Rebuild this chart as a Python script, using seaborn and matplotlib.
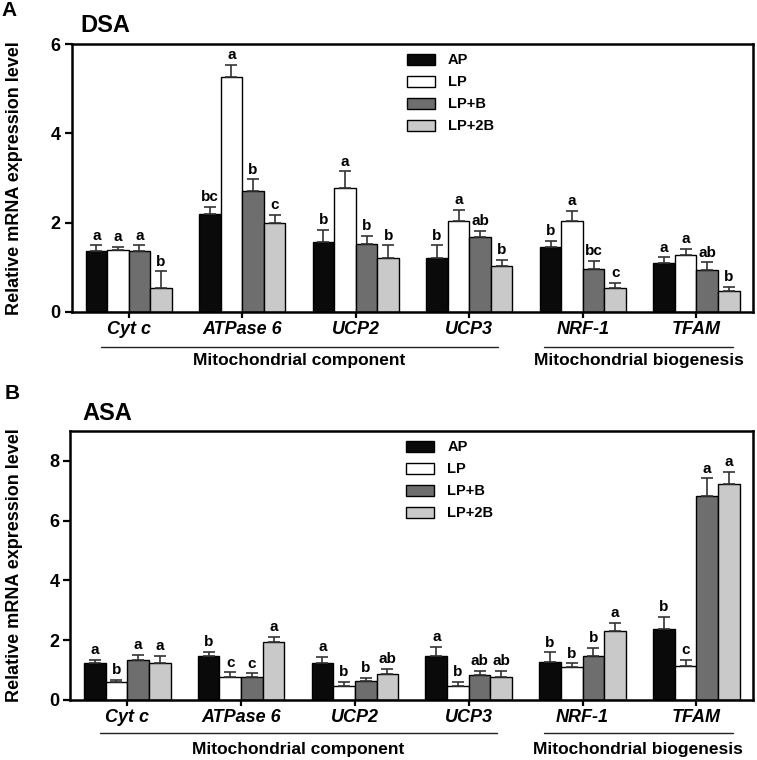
import numpy as np
import pandas as pd
import matplotlib
matplotlib.use("Agg")
import matplotlib.pyplot as plt
import matplotlib.transforms as mtransforms
import seaborn as sns

# ---------------------------------------------------------------------------
# data
# ---------------------------------------------------------------------------
genes = ["Cyt c", "ATPase 6", "UCP2", "UCP3", "NRF-1", "TFAM"]
groups = ["AP", "LP", "LP+B", "LP+2B"]
colors = ["#0a0a0a", "#ffffff", "#6e6e6e", "#c9c9c9"]

# panel A - DSA
dsa_ap = [1.36, 2.20, 1.56, 1.21, 1.45, 1.10]
dsa_lp = [1.38, 5.26, 2.78, 2.04, 2.04, 1.27]
dsa_lpb = [1.36, 2.70, 1.53, 1.67, 0.96, 0.93]
dsa_lp2b = [0.53, 1.99, 1.21, 1.02, 0.53, 0.48]
dsa_ap_err = [0.13, 0.15, 0.28, 0.28, 0.15, 0.12]
dsa_lp_err = [0.07, 0.28, 0.37, 0.24, 0.22, 0.15]
dsa_lpb_err = [0.13, 0.27, 0.17, 0.15, 0.19, 0.18]
dsa_lp2b_err = [0.38, 0.18, 0.28, 0.15, 0.12, 0.08]
dsa_ap_sig = ["a", "bc", "b", "b", "b", "a"]
dsa_lp_sig = ["a", "a", "a", "a", "a", "a"]
dsa_lpb_sig = ["a", "b", "b", "ab", "bc", "ab"]
dsa_lp2b_sig = ["b", "c", "b", "b", "c", "b"]

# panel B - ASA
asa_ap = [1.22, 1.47, 1.24, 1.46, 1.27, 2.39]
asa_lp = [0.59, 0.77, 0.47, 0.48, 1.11, 1.14]
asa_lpb = [1.34, 0.77, 0.63, 0.83, 1.47, 6.83]
asa_lp2b = [1.25, 1.94, 0.86, 0.76, 2.32, 7.21]
asa_ap_err = [0.13, 0.14, 0.20, 0.32, 0.32, 0.39]
asa_lp_err = [0.08, 0.15, 0.13, 0.13, 0.11, 0.20]
asa_lpb_err = [0.18, 0.12, 0.12, 0.15, 0.28, 0.58]
asa_lp2b_err = [0.22, 0.18, 0.17, 0.20, 0.27, 0.42]
asa_ap_sig = ["a", "b", "a", "a", "b", "b"]
asa_lp_sig = ["b", "c", "b", "b", "b", "c"]
asa_lpb_sig = ["a", "c", "b", "ab", "b", "a"]
asa_lp2b_sig = ["a", "a", "ab", "ab", "a", "a"]

gene_groups = [("Mitochondrial component", -0.24, 3.25),
               ("Mitochondrial biogenesis", 3.66, 5.32)]

# ---------------------------------------------------------------------------
# style
# ---------------------------------------------------------------------------
sns.set_style("ticks")
plt.rcParams["font.family"] = ["Liberation Sans", "DejaVu Sans"]
plt.rcParams["font.weight"] = "bold"
plt.rcParams["text.color"] = "black"
plt.rcParams["axes.labelcolor"] = "black"
plt.rcParams["xtick.color"] = "black"
plt.rcParams["ytick.color"] = "black"
plt.rcParams["axes.linewidth"] = 1.6


def long_frame(vals):
    rows = []
    for grp, v in zip(groups, vals):
        for g, x in zip(genes, v):
            rows.append({"gene": g, "group": grp, "value": x})
    return pd.DataFrame(rows)


def draw_panel(ax, vals, errs, sigs, ymax, yticks, line_y, text_y):
    df = long_frame(vals)
    sns.barplot(data=df, x="gene", y="value", hue="group", order=genes,
                hue_order=groups, palette=colors, width=0.76, gap=0,
                saturation=1, edgecolor="black", linewidth=1.0,
                errorbar=None, ax=ax)

    # one-sided error bars + significance letters
    for cont, err, sig in zip(ax.containers, errs, sigs):
        xs = [p.get_x() + p.get_width() / 2 for p in cont.patches]
        hs = [p.get_height() for p in cont.patches]
        ax.errorbar(xs, hs, yerr=[np.zeros(len(err)), err], fmt="none",
                    ecolor="#333333", elinewidth=1.2, capsize=4.5,
                    capthick=1.2, zorder=1)
        for x, h, e, s in zip(xs, hs, err, sig):
            ax.annotate(s, (x, h + e), xytext=(0, 2),
                        textcoords="offset points", ha="center",
                        va="bottom", fontsize=11, fontweight="bold")

    ax.set_xlim(-0.5, 5.5)
    ax.set_ylim(0, ymax)
    ax.set_yticks(yticks)
    ax.set_xlabel("")
    ax.set_ylabel("")
    for s in ax.spines.values():
        s.set_visible(True)
        s.set_color("black")
        s.set_linewidth(1.8)
    ax.tick_params(axis="y", length=5, width=1.6, labelsize=13, pad=3)
    ax.tick_params(axis="x", length=4.5, width=1.6, labelsize=13, pad=2)
    for lab in ax.get_xticklabels():
        lab.set_fontstyle("italic")
        lab.set_fontweight("bold")
    for lab in ax.get_yticklabels():
        lab.set_fontweight("bold")

    sns.move_legend(ax, "upper left", bbox_to_anchor=(0.492, 0.965),
                    frameon=False, title=None, fontsize=10.5,
                    handlelength=1.9, handleheight=0.75,
                    handletextpad=0.9, labelspacing=0.55,
                    borderpad=0, borderaxespad=0)

    trans = mtransforms.blended_transform_factory(ax.transData, ax.transAxes)
    for name, x0, x1 in gene_groups:
        ax.plot([x0, x1], [line_y, line_y], color="#222222", lw=1.0,
                transform=trans, clip_on=False)
        ax.text((x0 + x1) / 2, text_y, name, transform=trans,
                ha="center", va="center", fontsize=12.5, fontweight="bold")


fig = plt.figure(figsize=(7.57, 7.6), dpi=100)
ax_a = fig.add_axes([0.095, 0.5895, 0.9, 0.3526])
ax_b = fig.add_axes([0.093, 0.079, 0.902, 0.354])

draw_panel(ax_a, [dsa_ap, dsa_lp, dsa_lpb, dsa_lp2b],
           [dsa_ap_err, dsa_lp_err, dsa_lpb_err, dsa_lp2b_err],
           [dsa_ap_sig, dsa_lp_sig, dsa_lpb_sig, dsa_lp2b_sig],
           6, [0, 2, 4, 6], -0.13, -0.18)
draw_panel(ax_b, [asa_ap, asa_lp, asa_lpb, asa_lp2b],
           [asa_ap_err, asa_lp_err, asa_lpb_err, asa_lp2b_err],
           [asa_ap_sig, asa_lp_sig, asa_lpb_sig, asa_lp2b_sig],
           9, [0, 2, 4, 6, 8], -0.123, -0.183)

ylab = "Relative mRNA expression level"
fig.text(15 / 757, 1 - 178 / 760, ylab, rotation=90, ha="center",
         va="center", fontsize=13, fontweight="bold")
fig.text(15 / 757, 1 - 565 / 760, ylab, rotation=90, ha="center",
         va="center", fontsize=13, fontweight="bold")

fig.text(1 / 757, 1 - 11 / 760, "A", ha="left", va="center",
         fontsize=15, fontweight="bold")
fig.text(80 / 757, 1 - 25 / 760, "DSA", ha="left", va="center",
         fontsize=17, fontweight="bold")
fig.text(5 / 757, 1 - 394 / 760, "B", ha="left", va="center",
         fontsize=15, fontweight="bold")
fig.text(82 / 757, 1 - 414 / 760, "ASA", ha="left", va="center",
         fontsize=17, fontweight="bold")

fig.savefig("out.png", dpi=100)
